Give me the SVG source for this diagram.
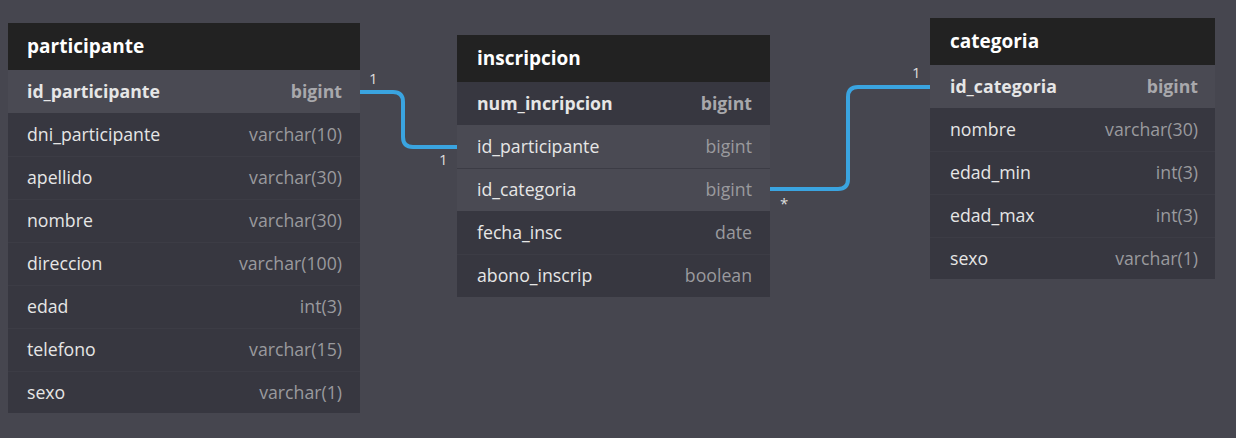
<svg xmlns="http://www.w3.org/2000/svg" width="1236" height="438" viewBox="0 0 1236 438">
<style>
.bg{fill:#46464f}
.hdr{fill:#222222}
.row{fill:#373740}
.hl{fill:#4a4a53}
.sep{stroke:#3c3c45;stroke-width:1}
.title{font-family:"Open Sans","Noto Sans",sans-serif;font-size:19px;font-weight:700;fill:#ffffff}
.fn{font-family:"Open Sans","Noto Sans",sans-serif;font-size:17.7px;fill:#e6e6e6}
.ft{font-family:"Open Sans","Noto Sans",sans-serif;font-size:17.7px;fill:#9a9a9e;text-anchor:end}
.pk{font-weight:700}
.pkt{font-weight:700;fill:#a8a8ac}
.lbl{font-family:"Open Sans","Noto Sans",sans-serif;font-size:15px;fill:#dddddd}
.conn{fill:none;stroke:#3aa4e0;stroke-width:4}
</style>
<rect class="bg" x="0" y="0" width="1236" height="438"/>
<g id="connectors">
<path class="conn" d="M360,92 H393 Q403,92 403,102 V137 Q403,147 413,147 H457"/>
<path class="conn" d="M770,189 H838 Q848,189 848,179 V97 Q848,87 858,87 H930"/>
<text class="lbl" x="369" y="84">1</text>
<text class="lbl" x="439" y="165">1</text>
<text class="lbl" x="780" y="209">*</text>
<text class="lbl" x="912" y="78">1</text>
</g>
<g id="participante">
<rect class="hdr" x="8" y="23" width="352" height="47"/>
<rect class="hl" x="8" y="70" width="352" height="43"/>
<rect class="row" x="8" y="113" width="352" height="300"/>
<line class="sep" x1="8" y1="156.5" x2="360" y2="156.5"/>
<line class="sep" x1="8" y1="199.5" x2="360" y2="199.5"/>
<line class="sep" x1="8" y1="242.5" x2="360" y2="242.5"/>
<line class="sep" x1="8" y1="285.5" x2="360" y2="285.5"/>
<line class="sep" x1="8" y1="328.5" x2="360" y2="328.5"/>
<line class="sep" x1="8" y1="371.5" x2="360" y2="371.5"/>
<text class="title" x="27" y="53">participante</text>
<text class="fn pk" x="27" y="98">id_participante</text><text class="ft pkt" x="342" y="98">bigint</text>
<text class="fn" x="27" y="141">dni_participante</text><text class="ft" x="342" y="141">varchar(10)</text>
<text class="fn" x="27" y="184">apellido</text><text class="ft" x="342" y="184">varchar(30)</text>
<text class="fn" x="27" y="227">nombre</text><text class="ft" x="342" y="227">varchar(30)</text>
<text class="fn" x="27" y="270">direccion</text><text class="ft" x="342" y="270">varchar(100)</text>
<text class="fn" x="27" y="313">edad</text><text class="ft" x="342" y="313">int(3)</text>
<text class="fn" x="27" y="356">telefono</text><text class="ft" x="342" y="356">varchar(15)</text>
<text class="fn" x="27" y="399">sexo</text><text class="ft" x="342" y="399">varchar(1)</text>
</g>
<g id="inscripcion">
<rect class="hdr" x="457" y="35" width="313" height="47"/>
<rect class="row" x="457" y="82" width="313" height="43"/>
<rect class="hl" x="457" y="125" width="313" height="86"/>
<line class="sep" x1="457" y1="168.5" x2="770" y2="168.5"/>
<rect class="row" x="457" y="211" width="313" height="86"/>
<line class="sep" x1="457" y1="254.5" x2="770" y2="254.5"/>
<text class="title" x="477" y="65">inscripcion</text>
<text class="fn pk" x="477" y="110">num_incripcion</text><text class="ft pkt" x="752" y="110">bigint</text>
<text class="fn" x="477" y="153">id_participante</text><text class="ft" x="752" y="153">bigint</text>
<text class="fn" x="477" y="196">id_categoria</text><text class="ft" x="752" y="196">bigint</text>
<text class="fn" x="477" y="239">fecha_insc</text><text class="ft" x="752" y="239">date</text>
<text class="fn" x="477" y="282">abono_inscrip</text><text class="ft" x="752" y="282">boolean</text>
</g>
<g id="categoria">
<rect class="hdr" x="930" y="18" width="285" height="47"/>
<rect class="hl" x="930" y="65" width="285" height="43"/>
<rect class="row" x="930" y="108" width="285" height="171"/>
<line class="sep" x1="930" y1="151.5" x2="1215" y2="151.5"/>
<line class="sep" x1="930" y1="194.5" x2="1215" y2="194.5"/>
<line class="sep" x1="930" y1="237.5" x2="1215" y2="237.5"/>
<text class="title" x="950" y="48">categoria</text>
<text class="fn pk" x="950" y="93">id_categoria</text><text class="ft pkt" x="1198" y="93">bigint</text>
<text class="fn" x="950" y="136">nombre</text><text class="ft" x="1198" y="136">varchar(30)</text>
<text class="fn" x="950" y="179">edad_min</text><text class="ft" x="1198" y="179">int(3)</text>
<text class="fn" x="950" y="222">edad_max</text><text class="ft" x="1198" y="222">int(3)</text>
<text class="fn" x="950" y="265">sexo</text><text class="ft" x="1198" y="265">varchar(1)</text>
</g>
</svg>
